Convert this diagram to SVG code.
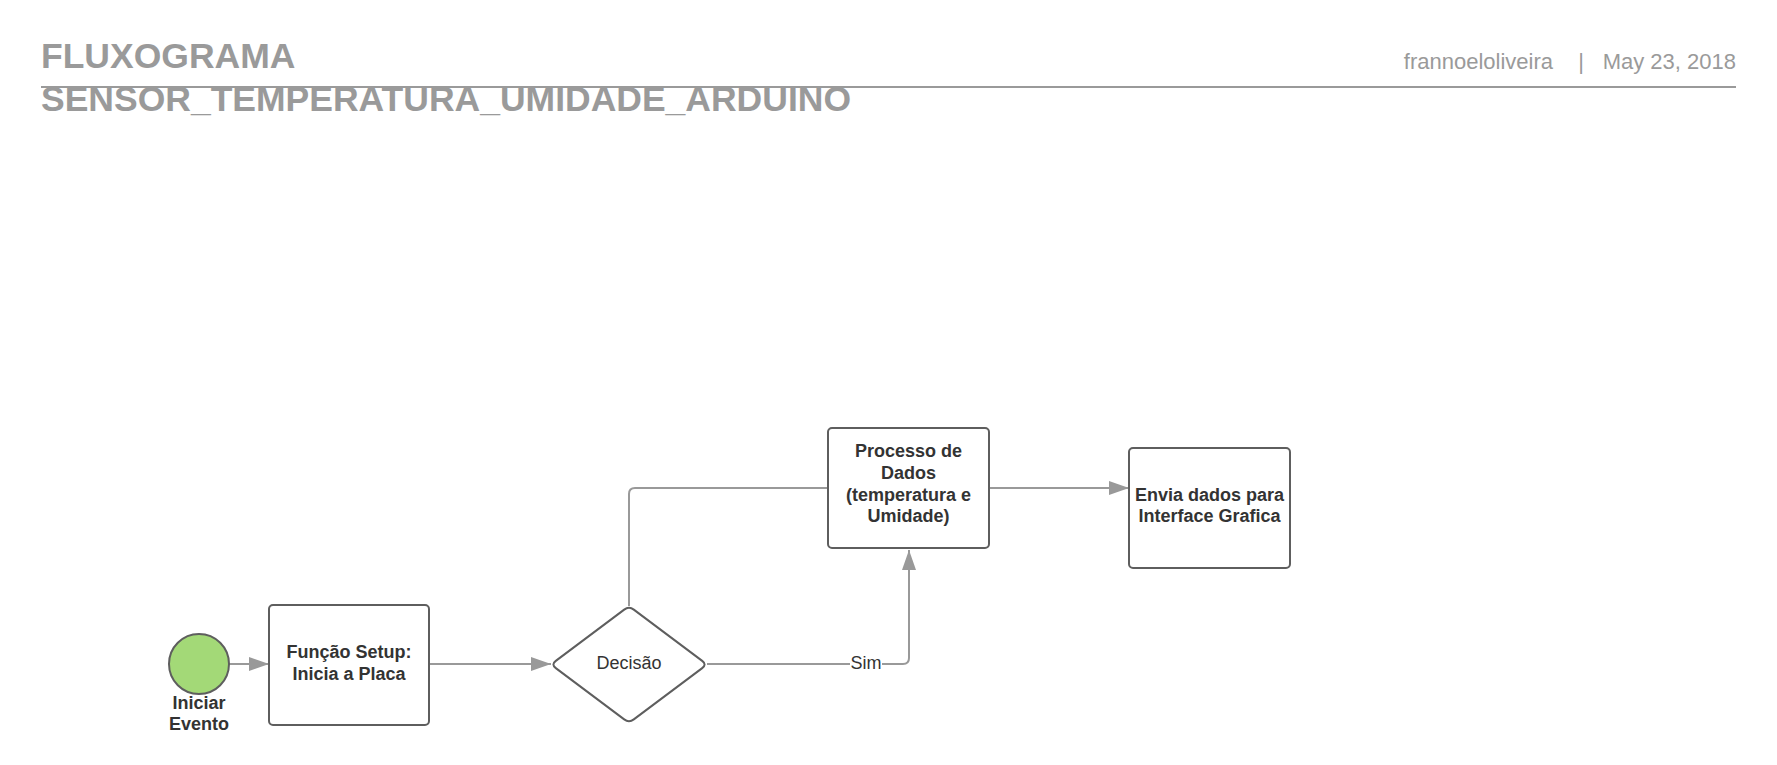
<svg xmlns="http://www.w3.org/2000/svg" width="1777" height="765" viewBox="0 0 1777 765">
<style>
.hdr{font-family:"Liberation Sans",Arial,sans-serif;font-weight:bold;font-size:35.5px;fill:#9a9a9a}
.meta{font-family:"Liberation Sans",Arial,sans-serif;font-size:22px;fill:#9a9a9a}
.node{fill:#ffffff;stroke:#5e5e5e;stroke-width:2}
.lbl{font-family:"Liberation Sans",Arial,sans-serif;font-weight:bold;font-size:18px;fill:#333333;text-anchor:middle}
.reg{font-family:"Liberation Sans",Arial,sans-serif;font-size:18px;fill:#333333;text-anchor:middle}
.conn{fill:none;stroke:#999999;stroke-width:2}
</style>
<defs>
<marker id="arr" viewBox="0 0 20 14" refX="20" refY="7" markerWidth="20" markerHeight="14" markerUnits="userSpaceOnUse" orient="auto">
<path d="M0,0 L20,7 L0,14 Z" fill="#999999"/>
</marker>
</defs>
<rect width="1777" height="765" fill="#ffffff"/>
<g id="header">
<text class="hdr" x="41" y="68">FLUXOGRAMA</text>
<text class="hdr" x="41" y="111">SENSOR_TEMPERATURA_UMIDADE_ARDUINO</text>
<text class="meta" x="1553" y="69" text-anchor="end">frannoeloliveira</text>
<text class="meta" x="1581" y="69" text-anchor="middle">|</text>
<text class="meta" x="1736" y="69" text-anchor="end">May 23, 2018</text>
<line x1="41" y1="87" x2="1736" y2="87" stroke="#9a9a9a" stroke-width="2"/>
</g>
<g id="connectors">
<path class="conn" d="M229,664 L269,664" marker-end="url(#arr)"/>
<path class="conn" d="M430,664 L551,664" marker-end="url(#arr)"/>
<path class="conn" d="M629,606 L629,494 Q629,488 635,488 L828,488"/>
<path class="conn" d="M707,664 L903,664 Q909,664 909,658 L909,550" marker-end="url(#arr)"/>
<path class="conn" d="M989,488 L1129,488" marker-end="url(#arr)"/>
<rect x="850" y="653" width="32" height="22" fill="#ffffff"/>
<text class="reg" x="866" y="669">Sim</text>
</g>
<g id="start">
<circle cx="199" cy="664" r="30" fill="#a3d977" stroke="#5e5e5e" stroke-width="2"/>
<text class="lbl" x="199" y="709">Iniciar</text>
<text class="lbl" x="199" y="730">Evento</text>
</g>
<g id="setup">
<rect class="node" x="269" y="605" width="160" height="120" rx="4"/>
<text class="lbl" x="349" y="658">Função Setup:</text>
<text class="lbl" x="349" y="679.5">Inicia a Placa</text>
</g>
<g id="decision">
<path class="node" d="M633.8,609.6 L702.2,660.9 Q707,664.5 702.2,668.1 L633.8,719.4 Q629,723 624.2,719.4 L555.8,668.1 Q551,664.5 555.8,660.9 L624.2,609.6 Q629,606 633.8,609.6 Z"/>
<text class="reg" x="629" y="668.5">Decisão</text>
</g>
<g id="process">
<rect class="node" x="828" y="428" width="161" height="120" rx="4"/>
<text class="lbl" x="908.5" y="457">Processo de</text>
<text class="lbl" x="908.5" y="479">Dados</text>
<text class="lbl" x="908.5" y="500.5">(temperatura e</text>
<text class="lbl" x="908.5" y="522">Umidade)</text>
</g>
<g id="send">
<rect class="node" x="1129" y="448" width="161" height="120" rx="4"/>
<text class="lbl" x="1209.5" y="500.5">Envia dados para</text>
<text class="lbl" x="1209.5" y="522">Interface Grafica</text>
</g>
</svg>
